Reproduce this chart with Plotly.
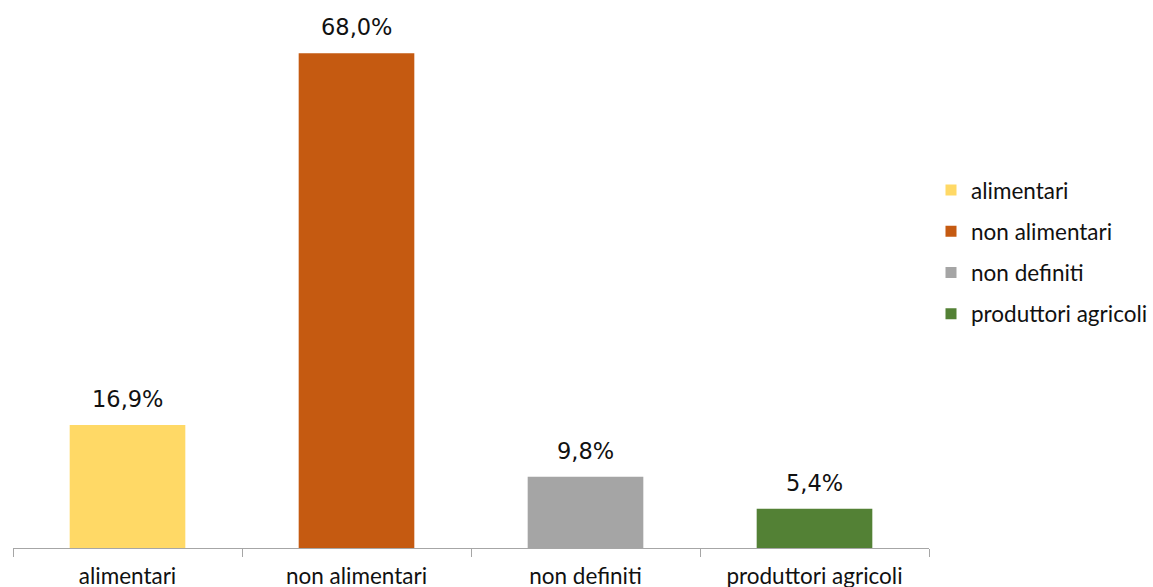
import plotly.graph_objects as go

categories = ["alimentari", "non alimentari", "non definiti", "produttori agricoli"]
values = [16.9, 68.0, 9.8, 5.4]
colors = ["#FFD966", "#C55A11", "#A5A5A5", "#538135"]
labels = ["16,9%", "68,0%", "9,8%", "5,4%"]

FONT = "Lato, Carlito, Calibri, sans-serif"
LABEL_FONT = "DejaVu Sans, Verdana, sans-serif"
TEXT = "#111111"

fig = go.Figure()

for cat, val, col in zip(categories, values, colors):
    # one bar per category, sharing the full slot
    fig.add_trace(go.Bar(
        x=[cat], y=[val], name=cat, marker_color=col, marker_line_width=0,
        width=0.505, showlegend=False,
    ))
    # small square legend swatch
    fig.add_trace(go.Scatter(
        x=[None], y=[None], mode="markers", name=cat, legendgroup=cat,
        marker=dict(symbol="square", size=11, color=col),
    ))

# value labels above each bar
for cat, val, lab in zip(categories, values, labels):
    fig.add_annotation(
        x=cat, y=val, text=lab, showarrow=False,
        yanchor="bottom", yshift=11,
        font=dict(family=LABEL_FONT, size=22.5, color=TEXT),
    )

fig.update_layout(
    width=1153, height=587,
    margin=dict(l=13, r=223, t=0, b=39),
    paper_bgcolor="white", plot_bgcolor="white",
    barmode="overlay",
    font=dict(family=FONT, color=TEXT),
    legend=dict(
        x=1.0022, xanchor="left", y=0.5405, yanchor="middle",
        font=dict(family=FONT, size=22.5, color=TEXT),
        traceorder="grouped", tracegroupgap=9,
        itemwidth=30, bgcolor="rgba(0,0,0,0)",
    ),
    xaxis=dict(
        categoryorder="array", categoryarray=categories,
        showline=True, linecolor="#A6A6A6", linewidth=1,
        ticks="outside", tickson="boundaries", ticklen=8, tickcolor="#A6A6A6",
        tickfont=dict(family=FONT, size=22.5, color=TEXT),
        ticklabelstandoff=8, automargin=False,
        showgrid=False, zeroline=False,
    ),
    yaxis=dict(
        range=[0, 75.3], visible=False, showgrid=False, zeroline=False,
        automargin=False,
    ),
)

fig.write_html("out.html")
